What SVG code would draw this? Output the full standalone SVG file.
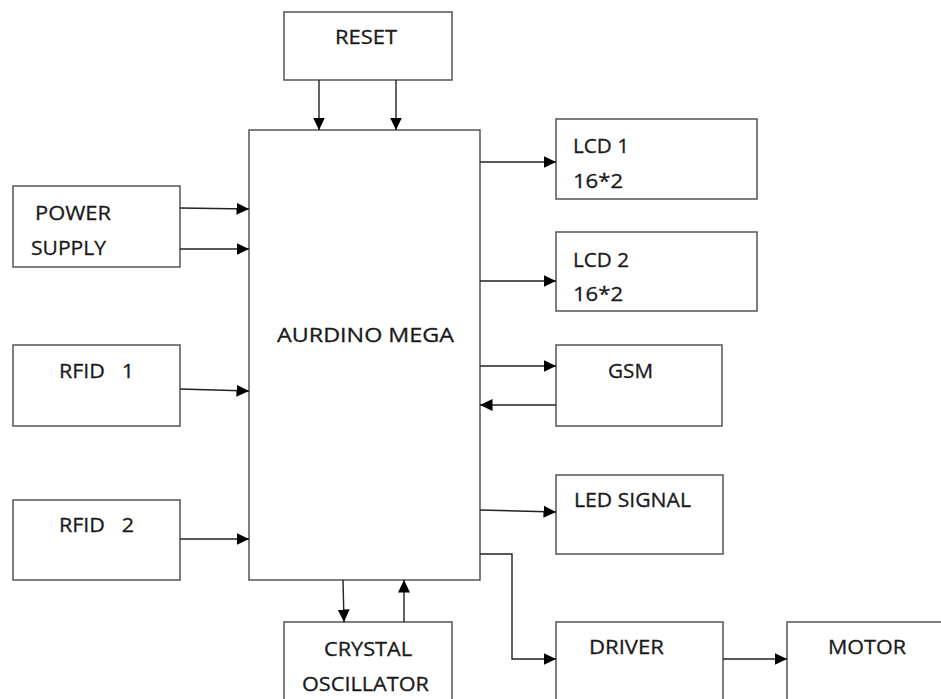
<svg xmlns="http://www.w3.org/2000/svg" width="941" height="699" viewBox="0 0 941 699">
<style>
.box{fill:#fff;stroke:#555;stroke-width:1.5}
.lbl{font-family:"Open Sans","Liberation Sans",sans-serif;font-size:20px;fill:#1a1a1a;stroke:#1a1a1a;stroke-width:0.3}
.con{fill:none;stroke:#222;stroke-width:1.4}
</style>
<defs>
<marker id="ah" markerUnits="userSpaceOnUse" markerWidth="14" markerHeight="14" viewBox="0 0 14 14" refX="12.5" refY="7" orient="auto">
<path d="M0,1 L12.5,7 L0,13 Z" fill="#000"/>
</marker>
</defs>
<rect width="941" height="699" fill="#fff"/>
<g id="reset"><rect class="box" x="284" y="12" width="168" height="68"/><text class="lbl" x="335" y="44" textLength="62" lengthAdjust="spacingAndGlyphs">RESET</text></g>
<g id="mega"><rect class="box" x="249" y="130" width="231" height="450"/><text class="lbl" x="277" y="342" textLength="177" lengthAdjust="spacingAndGlyphs">AURDINO MEGA</text></g>
<g id="power"><rect class="box" x="13" y="186" width="167" height="81"/><text class="lbl" x="35" y="220" textLength="76" lengthAdjust="spacingAndGlyphs">POWER</text><text class="lbl" x="31" y="255" textLength="75" lengthAdjust="spacingAndGlyphs">SUPPLY</text></g>
<g id="rfid1"><rect class="box" x="13" y="345" width="167" height="81"/><text class="lbl" x="59" y="378" xml:space="preserve" textLength="75" lengthAdjust="spacingAndGlyphs">RFID   1</text></g>
<g id="rfid2"><rect class="box" x="13" y="500" width="167" height="80"/><text class="lbl" x="59" y="532" xml:space="preserve" textLength="75" lengthAdjust="spacingAndGlyphs">RFID   2</text></g>
<g id="crystal"><rect class="box" x="284" y="622" width="168" height="90"/><text class="lbl" x="324" y="656" textLength="88" lengthAdjust="spacingAndGlyphs">CRYSTAL</text><text class="lbl" x="302" y="691" textLength="127" lengthAdjust="spacingAndGlyphs">OSCILLATOR</text></g>
<g id="lcd1"><rect class="box" x="556" y="119" width="201" height="80"/><text class="lbl" x="573" y="153" textLength="56" lengthAdjust="spacingAndGlyphs">LCD 1</text><text class="lbl" x="573" y="188" textLength="50" lengthAdjust="spacingAndGlyphs">16*2</text></g>
<g id="lcd2"><rect class="box" x="556" y="232" width="201" height="79"/><text class="lbl" x="573" y="267" textLength="56" lengthAdjust="spacingAndGlyphs">LCD 2</text><text class="lbl" x="573" y="301" textLength="50" lengthAdjust="spacingAndGlyphs">16*2</text></g>
<g id="gsm"><rect class="box" x="556" y="345" width="166" height="81"/><text class="lbl" x="608" y="378" textLength="45" lengthAdjust="spacingAndGlyphs">GSM</text></g>
<g id="led"><rect class="box" x="556" y="475" width="167" height="79"/><text class="lbl" x="574" y="507" textLength="117" lengthAdjust="spacingAndGlyphs">LED SIGNAL</text></g>
<g id="driver"><rect class="box" x="556" y="622" width="167" height="90"/><text class="lbl" x="589" y="654" textLength="75" lengthAdjust="spacingAndGlyphs">DRIVER</text></g>
<g id="motor"><rect class="box" x="787" y="622" width="170" height="90"/><text class="lbl" x="828" y="654" textLength="78" lengthAdjust="spacingAndGlyphs">MOTOR</text></g>
<g id="connectors">
<path class="con" d="M319,80 V130" marker-end="url(#ah)"/>
<path class="con" d="M396,80 V130" marker-end="url(#ah)"/>
<path class="con" d="M180,208 L249,209" marker-end="url(#ah)"/>
<path class="con" d="M180,249 H249" marker-end="url(#ah)"/>
<path class="con" d="M180,389 L249,391" marker-end="url(#ah)"/>
<path class="con" d="M180,539 H249" marker-end="url(#ah)"/>
<path class="con" d="M343,580 L344,622" marker-end="url(#ah)"/>
<path class="con" d="M404,622 V580" marker-end="url(#ah)"/>
<path class="con" d="M480,162 H556" marker-end="url(#ah)"/>
<path class="con" d="M480,281 H556" marker-end="url(#ah)"/>
<path class="con" d="M480,366 H556" marker-end="url(#ah)"/>
<path class="con" d="M556,405 H480" marker-end="url(#ah)"/>
<path class="con" d="M480,510 L556,512" marker-end="url(#ah)"/>
<path class="con" d="M480,554 H512 V659 H556" marker-end="url(#ah)"/>
<path class="con" d="M723,659 H787" marker-end="url(#ah)"/>
</g>
</svg>
